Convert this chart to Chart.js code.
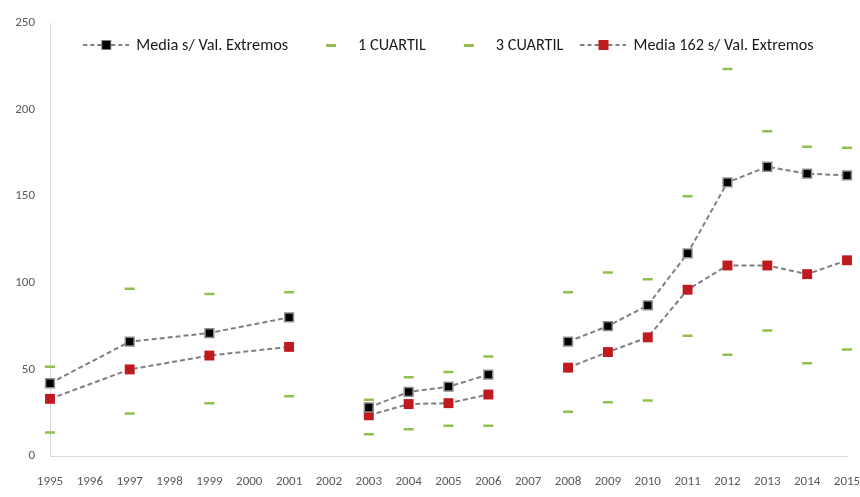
<!DOCTYPE html>
<html>
<head>
<meta charset="utf-8">
<script src="https://cdn.jsdelivr.net/npm/chart.js@4.4.0/dist/chart.umd.min.js"></script>
<style>
  body { margin: 0; background: #fff; }
</style>
</head>
<body>
<canvas id="myChart" width="860" height="497"></canvas>
<script>
///// LINE CHART /////

// Datas
const years = ['1995', '1996', '1997', '1998', '1999', '2000', '2001', '2002', '2003', '2004',
    '2005', '2006', '2007', '2008', '2009', '2010', '2011', '2012', '2013', '2014', '2015'];
const mediaData = [42, null, 66, null, 71, null, 80, null, 28, 37, 40, 47, null, 66, 75, 87, 117, 158, 167, 163, 162];
const cuartil1Data = [13.5, null, 24.5, null, 30.5, null, 34.5, null, 12.5, 15.5, 17.5, 17.5, null, 25.5, 31, 32, 69.5, 58.5, 72.5, 53.5, 61.5];
const cuartil3Data = [51.5, null, 96.5, null, 93.5, null, 94.5, null, 32.5, 45.5, 48.5, 57.5, null, 94.5, 106, 102, 150, 223.5, 187.5, 178.5, 178];
const media162Data = [33, null, 50, null, 58, null, 63, null, 23.5, 30, 30.5, 35.5, null, 51, 60, 68.5, 96, 110, 110, 105, 113];
const breakYears = ['2002', '2007']; // the series is interrupted at these years
const yTicks = [0, 50, 100, 150, 200, 250];

const fontFamily = "Carlito, Lato, 'Open Sans', sans-serif";
const lineGray = '#808080';
const green = '#92C050';
const red = '#C0191E';

// no line through a break year (p0/p1 are consecutive indexes, nulls included)
function touchesBreak(ctx) {
    return breakYears.includes(years[ctx.p0DataIndex]) || breakYears.includes(years[ctx.p1DataIndex]);
}

const lineSegment = {
    borderColor: ctx => touchesBreak(ctx) ? 'rgba(0,0,0,0)' : lineGray
};

// small legend icons like Excel: dashed line with marker in the middle
const ICON_W = 46, ICON_H = 14;
function makeIcon(withLine, drawMarker) {
    const c = document.createElement('canvas');
    c.width = ICON_W;
    c.height = ICON_H;
    const g = c.getContext('2d');
    if (withLine) {
        g.strokeStyle = lineGray;
        g.lineWidth = 2;
        g.setLineDash([4, 3]);
        g.beginPath();
        g.moveTo(0, 7);
        g.lineTo(ICON_W, 7);
        g.stroke();
        g.setLineDash([]);
    }
    drawMarker(g);
    return c;
}
const iconMedia = makeIcon(true, g => {
    g.fillStyle = '#000';
    g.fillRect(18, 2, 10, 10);
    g.strokeStyle = lineGray;
    g.lineWidth = 1;
    g.strokeRect(18.5, 2.5, 9, 9);
});
const iconMedia162 = makeIcon(true, g => {
    g.fillStyle = red;
    g.fillRect(18, 2, 10, 10);
});
const iconCuartil = makeIcon(false, g => {
    g.fillStyle = green;
    g.fillRect(21, 6, 10, 3);
});

// legend drawn over the top of the plot, as in the Excel original
const excelLegend = {
    id: 'excelLegend',
    afterDraw(chart) {
        const { ctx, chartArea } = chart;
        const iconGap = 7, itemGap = 17;
        ctx.save();
        ctx.font = '16.3px ' + fontFamily;
        ctx.textBaseline = 'middle';
        ctx.fillStyle = '#1a1a1a';
        const items = chart.data.datasets.map(ds => ({
            icon: ds.legendIcon,
            text: ds.label,
            w: ctx.measureText(ds.label).width
        }));
        const total = items.reduce((s, it) => s + ICON_W + iconGap + it.w, 0) + itemGap * (items.length - 1);
        let x = (chartArea.left + chartArea.right) / 2 - total / 2;
        const y = chartArea.top + 22;
        items.forEach(it => {
            ctx.drawImage(it.icon, x, y - ICON_H / 2);
            x += ICON_W + iconGap;
            ctx.fillText(it.text, x, y + 1);
            x += it.w + itemGap;
        });
        ctx.restore();
    }
};

//Create our own chart
const myChart = new Chart('myChart', {
    type: 'line',
    data: {
        labels: years,
        datasets: [{
            label: 'Media s/ Val. Extremos',
            data: mediaData,
            borderColor: lineGray,
            borderWidth: 2,
            borderDash: [5, 3],
            spanGaps: true,
            segment: lineSegment,
            pointStyle: 'rect',
            pointRadius: 6.2,
            pointBackgroundColor: '#000',
            pointBorderColor: '#8c8c8c',
            pointBorderWidth: 1.5,
            legendIcon: iconMedia
        },
        {
            label: '1 CUARTIL',
            data: cuartil1Data,
            showLine: false,
            pointStyle: 'line',
            pointRadius: 5,
            pointBorderWidth: 2.5,
            pointBorderColor: green,
            borderColor: green,
            legendIcon: iconCuartil
        },
        {
            label: '3 CUARTIL',
            data: cuartil3Data,
            showLine: false,
            pointStyle: 'line',
            pointRadius: 5,
            pointBorderWidth: 2.5,
            pointBorderColor: green,
            borderColor: green,
            legendIcon: iconCuartil
        },
        {
            label: 'Media 162 s/ Val. Extremos',
            data: media162Data,
            borderColor: lineGray,
            borderWidth: 2,
            borderDash: [5, 3],
            spanGaps: true,
            segment: lineSegment,
            pointStyle: 'rect',
            pointRadius: 7,
            pointBackgroundColor: red,
            pointBorderColor: red,
            pointBorderWidth: 0,
            legendIcon: iconMedia162
        }
        ]
    },
    options: {
        responsive: false,
        animation: false,
        layout: {
            padding: { top: 23, right: 13, bottom: 0, left: 0 }
        },
        plugins: {
            tooltip: { enabled: false },
            legend: { display: false }
        },
        scales: {
            x: {
                grid: { display: false, drawTicks: false },
                border: { display: true, color: '#d9d9d9', width: 1 },
                ticks: {
                    color: '#595959',
                    font: { family: fontFamily, size: 13 },
                    autoSkip: false,
                    maxRotation: 0,
                    padding: 18
                },
                afterFit: scale => {
                    scale.paddingRight = 0; // let the 2015 label run off the edge
                    scale.height = 41;
                }
            },
            y: {
                min: 0,
                max: 250,
                afterBuildTicks: scale => { scale.ticks = yTicks.map(v => ({ value: v })); },
                grid: { display: false, drawTicks: false },
                border: { display: true, color: '#d9d9d9', width: 1 },
                ticks: {
                    color: '#595959',
                    font: { family: fontFamily, size: 13 },
                    padding: 15
                },
                afterFit: scale => { scale.width = 50; }
            }
        }
    },
    plugins: [excelLegend]
});
</script>
</body>
</html>
